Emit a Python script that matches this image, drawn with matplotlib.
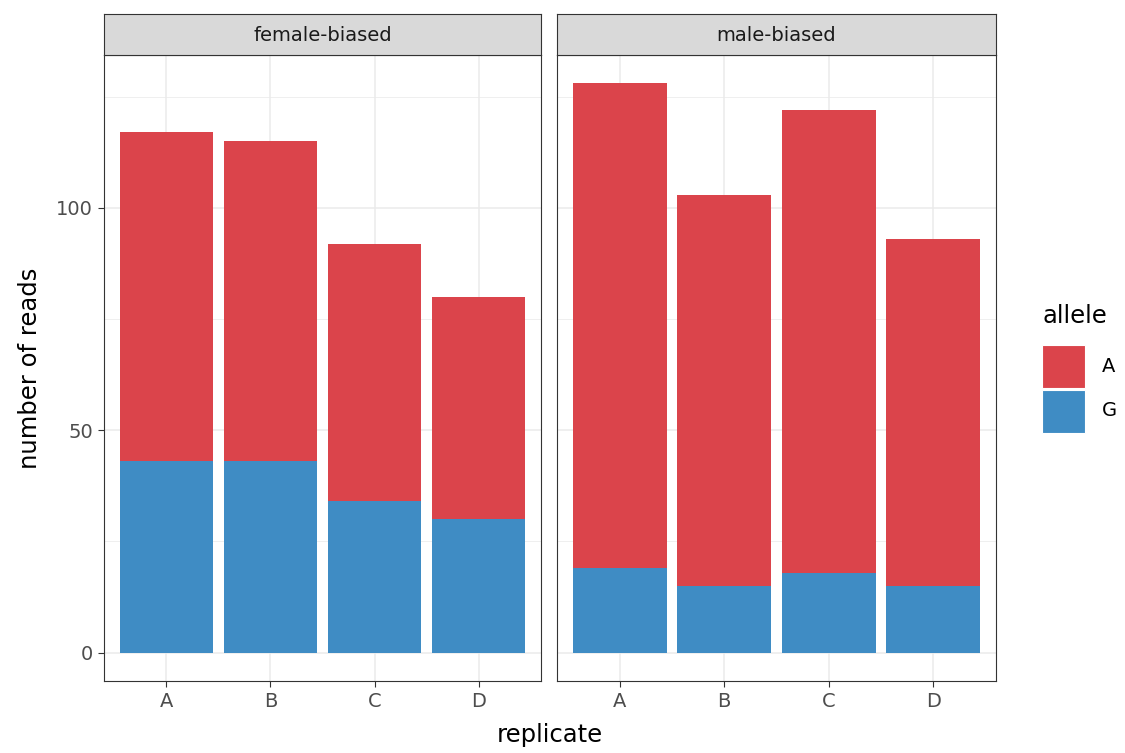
import numpy as np
import matplotlib.pyplot as plt
from matplotlib.patches import Rectangle

# Данные
panels = ["female-biased", "male-biased"]
replicates = ["A", "B", "C", "D"]
total_reads = {
    "female-biased": [117, 115, 92, 80],
    "male-biased": [128, 103, 122, 93],
}
g_reads = {
    "female-biased": [43, 43, 34, 30],
    "male-biased": [19, 15, 18, 15],
}
alleles = ["A", "G"]
colors = {"A": "#DB444B", "G": "#3F8CC4"}

W, H = 1125, 753
fig = plt.figure(figsize=(W / 100, H / 100), dpi=100)


def px(x0, y0, x1, y1):
    # пиксели -> доли фигуры
    return [x0 / W, 1 - y1 / H, (x1 - x0) / W, (y1 - y0) / H]


panel_x = [(104, 541), (557, 996)]
ymin, ymax = -6.4, 134.4
x = np.arange(len(replicates)) + 1

for i, name in enumerate(panels):
    x0, x1 = panel_x[i]
    ax = fig.add_axes(px(x0, 55, x1, 681))
    g = np.array(g_reads[name])
    a = np.array(total_reads[name]) - g
    ax.bar(x, g, width=0.9, color=colors["G"], zorder=3)
    ax.bar(x, a, bottom=g, width=0.9, color=colors["A"], zorder=3)
    ax.set_xlim(0.4, 4.6)
    ax.set_ylim(ymin, ymax)
    ax.set_xticks(x)
    ax.set_xticklabels(replicates)
    ax.set_yticks([0, 50, 100])
    ax.set_yticks([25, 75, 125], minor=True)
    ax.grid(True, which="major", color="#EBEBEB", linewidth=1.1, zorder=0)
    ax.grid(True, which="minor", axis="y", color="#EBEBEB", linewidth=0.55, zorder=0)
    ax.set_axisbelow(True)
    for s in ax.spines.values():
        s.set_color("#333333")
        s.set_linewidth(0.8)
    ax.tick_params(which="major", length=4, width=0.8, color="#333333",
                   labelcolor="#4D4D4D", labelsize=14, pad=4)
    ax.tick_params(which="minor", length=0)
    if i == 0:
        ax.set_ylabel("number of reads", fontsize=17.5, labelpad=10)
    else:
        ax.tick_params(axis="y", which="both", left=False, labelleft=False)

    # полоса с заголовком панели
    sax = fig.add_axes(px(x0, 14, x1, 55))
    sax.set_xticks([])
    sax.set_yticks([])
    sax.set_facecolor("#D9D9D9")
    for s in sax.spines.values():
        s.set_color("#333333")
        s.set_linewidth(0.8)
    sax.text(0.5, 0.48, name, ha="center", va="center", fontsize=14,
             color="#1A1A1A", transform=sax.transAxes)

fig.text(550 / W, 1 - 735 / H, "replicate", ha="center", va="center", fontsize=17.5)

# Легенда
fig.text(1042 / W, 1 - 316 / H, "allele", ha="left", va="center", fontsize=17.5)
for j, al in enumerate(alleles):
    y0 = 345 + j * 45
    fig.patches.append(Rectangle((1042 / W, 1 - (y0 + 43) / H), 43 / W, 43 / H,
                                 transform=fig.transFigure, facecolor=colors[al],
                                 edgecolor="white", linewidth=0.8))
    fig.text(1102 / W, 1 - (y0 + 21) / H, al, ha="left", va="center", fontsize=14)

fig.savefig("out.png", dpi=100, facecolor="white")
